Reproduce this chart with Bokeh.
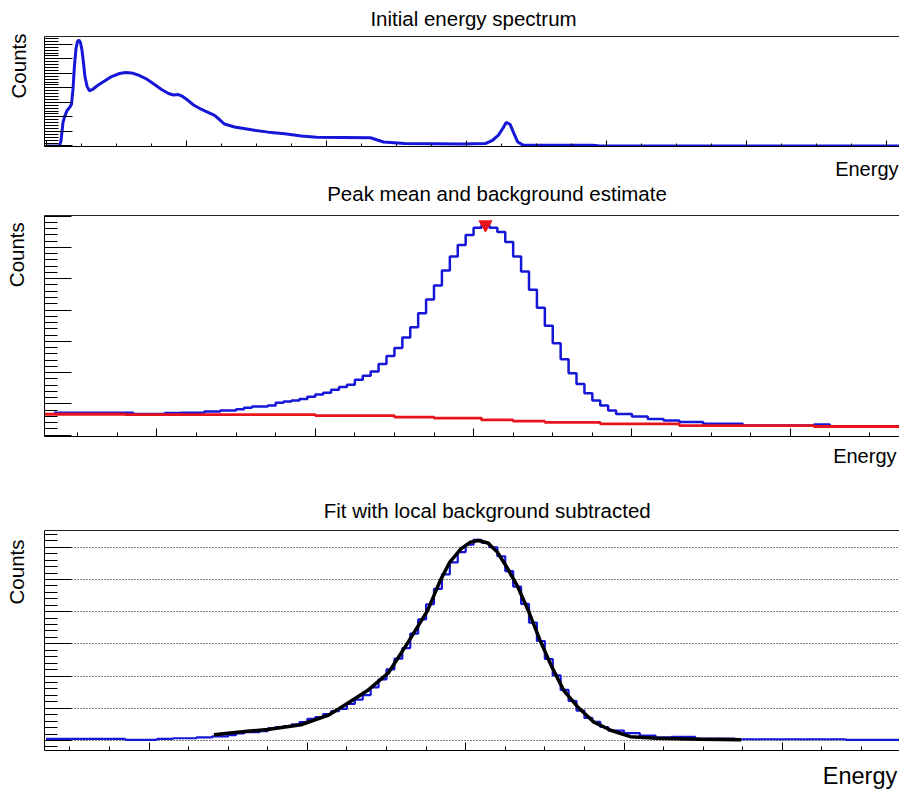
from bokeh.plotting import figure
from bokeh.models import (Range1d, LinearAxis, SingleIntervalTicker, FixedTicker,
                          Label, Grid, CustomJSTickFormatter)
from bokeh.layouts import column
from bokeh.embed import file_html
from bokeh.resources import INLINE

# ---------------- data ----------------
# Full spectrum (energy, counts)
spectrum_energy = [0, 92, 103, 117, 128, 146, 164, 178, 189, 199, 210, 221, 231, 242, 253,
                   264, 274, 289, 306, 328, 364, 414, 464, 521, 564, 607, 664, 714, 771, 821,
                   871, 907, 942, 971, 1007, 1050, 1107, 1157, 1200, 1235, 1271, 1342, 1464,
                   1585, 1700, 1821, 1928, 2314, 2368, 2407, 2557, 2971, 3133, 3186, 3228,
                   3262, 3283, 3311, 3338, 3366, 3407, 3900, 3954, 6100]
spectrum_counts = [0, 0, 37, 160, 200, 244, 265, 288, 396, 554, 671, 720, 730, 713, 658,
                   568, 478, 410, 379, 389, 416, 447, 478, 499, 506, 503, 485, 461, 423, 389,
                   361, 351, 354, 341, 316, 282, 251, 230, 210, 182, 151, 130, 111,
                   95, 84, 68, 60, 56, 39, 27, 16, 13, 16, 39, 74,
                   125, 162, 148, 86, 27, 4, 4, 0, 0]

# Zoomed peak region: histogram bins of width 5 starting at 35
bin_start = 35
bin_width = 5
peak_counts = ([72] * 10 + [68] * 4 + [71] * 2 + [72] * 3 + [76] * 2 + [79] * 2 + [83, 88]
               + [92] * 2 + [95]
               + [104, 108, 111, 116, 123, 130, 136, 145, 154, 161, 177, 190, 204, 228, 253,
                  279, 312, 345, 390, 434, 478, 526, 571, 608, 640, 663, 672, 663, 649, 617,
                  571, 523, 465, 407, 350, 294, 243, 198, 164, 134, 111, 95, 79]
               + [68] * 2 + [60] * 2 + [52] * 2 + [47] * 2 + [42] * 3
               + [37] * 5 + [31] * 9 + [34] * 2 + [28] * 9)

# Estimated background (step edges and levels)
bg_edges = [29, 80, 200, 250, 275, 305, 325, 345, 380, 430, 515, 569]
bg_levels = [67, 66, 63, 58, 55, 49, 45, 41, 36.5, 31, 28]

# Peak found by the search
peak_marker_energy = [307.5]
peak_marker_height = [673]

# Background-subtracted histogram (same binning)
net_counts = ([5] * 10 + [2] * 4 + [5] * 2 + [7] * 3 + [10] * 2 + [13] * 2 + [17, 22]
              + [26] * 2 + [29]
              + [38, 42, 45, 50, 57, 67, 73, 82, 91, 98, 114, 127, 141, 165, 190,
                 221, 254, 287, 332, 376, 423, 471, 516, 553, 585, 608, 623, 614, 600, 572,
                 526, 478, 424, 366, 309, 253, 202, 157, 123, 93, 70, 58, 42]
              + [31] * 2 + [23] * 2 + [15] * 2 + [10] * 2 + [11] * 3
              + [6] * 5 + [4] * 14 + [2] * 7)

# Fitted peak shape
fit_energy = [141, 162, 175, 196, 213, 225, 238, 251, 263, 276, 284, 290, 297, 303, 308,
              314, 320, 326, 333, 340, 347, 354, 362, 371, 381, 392, 404, 421, 448, 474]
fit_counts = [18, 29, 34, 49, 78, 114, 155, 209, 300, 404, 497, 554, 595, 616, 621,
              613, 585, 538, 476, 398, 311, 233, 155, 103, 57, 31, 12, 7, 4, 2]

# ---------------- styling ----------------
FONT = "Liberation Sans"
BLUE = "#1616d8"
RED = "#e8141c"


def blank():
    return CustomJSTickFormatter(code="return ''")


def panel(xr, yr, fw, fh, left, top, bottom):
    return figure(frame_width=fw, frame_height=fh,
                  min_border_left=left, min_border_right=0,
                  min_border_top=top, min_border_bottom=bottom,
                  x_range=Range1d(*xr), y_range=Range1d(*yr),
                  x_axis_type=None, y_axis_type=None,
                  output_backend="svg", toolbar_location=None,
                  outline_line_color=None, background_fill_color="white",
                  border_fill_color="white")


def text(p, side, txt, x, y, size, align="center", angle=0.0):
    # labels sit in the side panels, outside the axes
    p.add_layout(Label(x=x, y=y, x_units="screen", y_units="screen", text=txt,
                       text_font=FONT, text_font_size=size, text_align=align,
                       text_baseline="alphabetic", angle=angle, text_color="black"),
                 side)


def axes(p, x_int, y_int, x_tick, y_tick):
    xt = SingleIntervalTicker(interval=x_int, num_minor_ticks=4)
    yt = SingleIntervalTicker(interval=y_int, num_minor_ticks=5)
    common = dict(major_tick_out=0, minor_tick_out=0, axis_line_color="black",
                  major_tick_line_color="black", minor_tick_line_color="black",
                  major_label_text_font_size="1px", major_label_standoff=0)
    p.add_layout(LinearAxis(ticker=xt, formatter=blank(), major_tick_in=x_tick,
                            minor_tick_in=x_tick // 2, **common), "below")
    p.add_layout(LinearAxis(ticker=yt, formatter=blank(), major_tick_in=y_tick,
                            minor_tick_in=y_tick // 2, **common), "left")
    p.add_layout(LinearAxis(ticker=FixedTicker(ticks=[]), formatter=blank(),
                            major_tick_out=0, major_label_standoff=0,
                            axis_line_color="#222222", major_label_text_font_size="1px"),
                 "above")
    return yt


def hist_edges(n):
    return [bin_start + bin_width * i for i in range(n + 1)]


COUNTS_ANGLE = 1.5708

# ---- top: full spectrum ----
p1 = panel((-15, 6100), (-4, 754), 856, 110, 43, 36, 34)
axes(p1, 1000, 100, 6, 28)
text(p1, "above", "Initial energy spectrum", 429, 18.5, "20.5px")
text(p1, "below", "Energy", 854, 0, "20px", align="right")
text(p1, "left", "Counts", -3.5, 113, "20.5px", align="right", angle=COUNTS_ANGLE)
p1.line(spectrum_energy, spectrum_counts, line_color=BLUE, line_width=3)

# ---- middle: peak and background ----
p2 = panel((29, 569), (-4, 702), 855, 221, 44, 35, 34)
axes(p2, 100, 100, 8, 27)
text(p2, "above", "Peak mean and background estimate", 452.5, 22.5, "20.5px")
text(p2, "below", "Energy", 852, 2.4, "20px", align="right")
text(p2, "left", "Counts", -5, 214.3, "20.5px", align="right", angle=COUNTS_ANGLE)
e2 = hist_edges(len(peak_counts))
p2.step(e2, peak_counts + [peak_counts[-1]], mode="after", line_color=BLUE, line_width=2.5)
p2.step(bg_edges, bg_levels + [bg_levels[-1]], mode="after", line_color=RED, line_width=2.8)
p2.scatter(peak_marker_energy, peak_marker_height, marker="inverted_triangle", size=13,
           fill_color=RED, line_color=RED)

# ---- bottom: fit ----
p3 = panel((34, 574), (-31, 652), 855, 220, 44, 60, 39)
yt3 = axes(p3, 100, 100, 8, 27)
text(p3, "above", "Fit with local background subtracted", 442.7, 20.3, "20.5px")
text(p3, "below", "Energy", 852.7, 0.5, "23.5px", align="right")
text(p3, "left", "Counts", -5, 211, "20.5px", align="right", angle=COUNTS_ANGLE)
p3.add_layout(Grid(dimension=1, ticker=yt3, grid_line_color="black",
                   grid_line_dash="1 2", grid_line_width=1))
e3 = hist_edges(len(net_counts))
p3.step(e3, net_counts + [net_counts[-1]], mode="after", line_color=BLUE, line_width=2.2)
p3.line(fit_energy, fit_counts, line_color="black", line_width=3.5)

layout = column(p1, p2, p3, spacing=0)
open("out.html", "w").write(file_html(layout, INLINE))
